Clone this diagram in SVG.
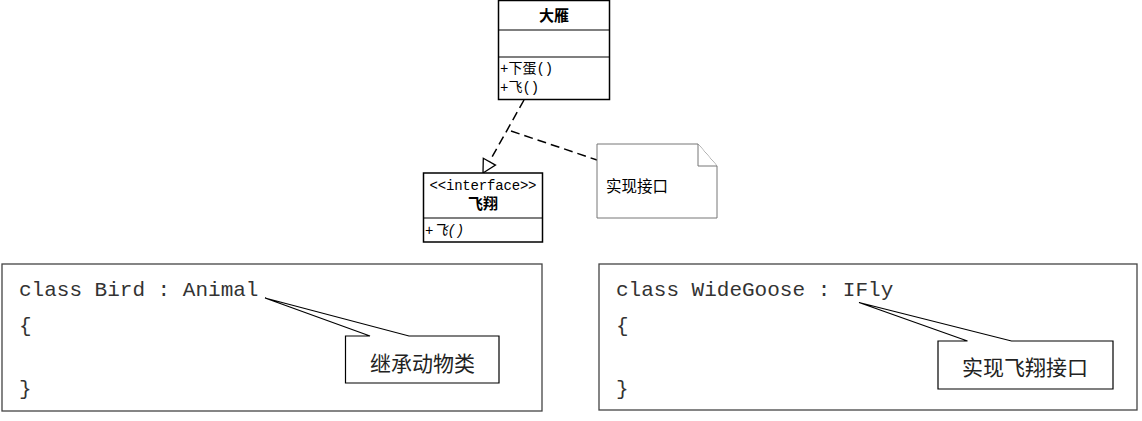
<svg xmlns="http://www.w3.org/2000/svg" width="1142" height="421" viewBox="0 0 1142 421">
<style>
.uml{fill:#fff;stroke:#000;stroke-width:1.5}
.div{stroke:#000;stroke-width:1.2}
.t{font-family:"Liberation Mono","Noto Sans CJK SC",monospace;font-size:14px;fill:#000}
.title{font-family:"Noto Sans CJK SC",sans-serif;font-size:15px;font-weight:bold;fill:#000;text-anchor:middle}
.note{fill:#fff;stroke:#777;stroke-width:1}
.code{fill:#fff;stroke:#444;stroke-width:1.3}
.ct{font-family:"Liberation Mono",monospace;font-size:21px;fill:#333}
.call{fill:#fff;stroke:#000;stroke-width:1.2;stroke-linejoin:miter}
.cj{font-family:"Noto Sans CJK SC",sans-serif;font-size:21px;fill:#222;text-anchor:middle}
.dash{fill:none;stroke:#000;stroke-width:1.5;stroke-dasharray:9 5}
</style>
<g id="connectors">
<line class="dash" x1="524" y1="100" x2="489.4" y2="161.7"/>
<polygon points="483,173 495.5,165.1 483.3,158.3" fill="#fff" stroke="#000" stroke-width="1.3"/>
<line class="dash" x1="511" y1="131" x2="597" y2="160"/>
</g>
<g id="node-dayan">
<rect class="uml" x="498.5" y="0.5" width="111" height="99"/>
<line class="div" x1="498.5" y1="30" x2="609.5" y2="30"/>
<line class="div" x1="498.5" y1="57" x2="609.5" y2="57"/>
<text class="title" x="554" y="21">大雁</text>
<text class="t" x="500" y="73">+下蛋()</text>
<text class="t" x="500" y="92">+飞()</text>
</g>
<g id="node-feixiang">
<rect class="uml" x="423.5" y="173" width="119" height="69"/>
<line class="div" x1="423.5" y1="218" x2="542.5" y2="218"/>
<text class="t" x="483" y="190" text-anchor="middle" font-size="13.5" textLength="107" fill="#333">&lt;&lt;interface&gt;&gt;</text>
<text class="title" x="483" y="209">飞翔</text>
<text class="t" x="425" y="235" font-style="italic" fill="#333">+飞()</text>
</g>
<g id="note">
<path class="note" d="M597,144 L698,144 L717,166 L717,218 L597,218 Z"/>
<path class="note" d="M698,144 L698,166 L717,166"/>
<text x="606" y="192" font-family="Noto Sans CJK SC,sans-serif" font-size="15.5" fill="#000">实现接口</text>
</g>
<g id="code-bird">
<rect class="code" x="2" y="264" width="540" height="147"/>
<text class="ct" x="19" y="296">class Bird : Animal</text>
<text class="ct" x="19" y="332">{</text>
<text class="ct" x="19" y="395">}</text>
<path class="call" d="M345.5,336 L370,336 L265,298 L409,336 L499,336 L499,383 L345.5,383 Z"/>
<text class="cj" x="422.5" y="371">继承动物类</text>
</g>
<g id="code-goose">
<rect class="code" x="599" y="264" width="538" height="146"/>
<text class="ct" x="616" y="296">class WideGoose : IFly</text>
<text class="ct" x="616" y="332">{</text>
<text class="ct" x="616" y="395">}</text>
<path class="call" d="M938,341 L967.5,341 L859,302.5 L1011.5,341 L1113,341 L1113,389 L938,389 Z"/>
<text class="cj" x="1025" y="375">实现飞翔接口</text>
</g>
</svg>
